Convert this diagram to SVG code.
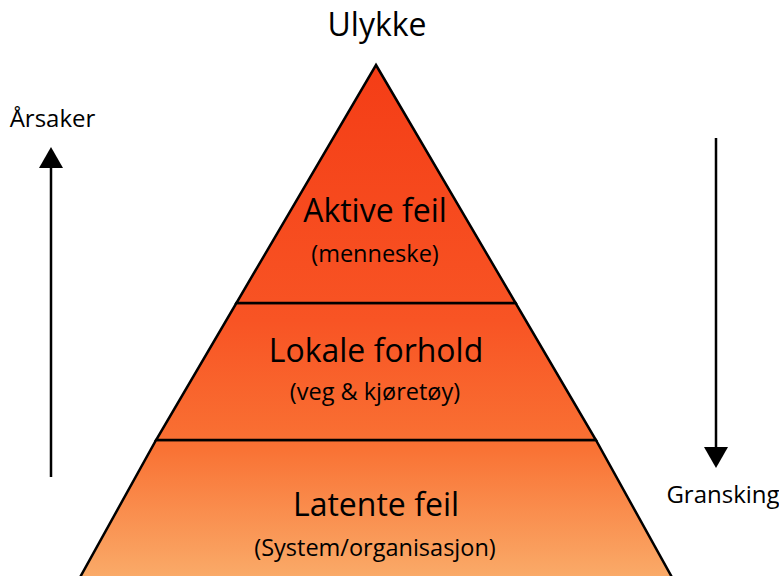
<svg xmlns="http://www.w3.org/2000/svg" width="779" height="576" viewBox="0 0 779 576">
<defs>
<linearGradient id="g" gradientUnits="userSpaceOnUse" x1="0" y1="65" x2="0" y2="576">
<stop offset="0" stop-color="#F43D16"/>
<stop offset="0.5" stop-color="#F85424"/>
<stop offset="0.75" stop-color="#F97234"/>
<stop offset="1" stop-color="#FAAA68"/>
</linearGradient>
</defs>
<style>
.band{fill:url(#g);stroke:#000;stroke-width:2.5;stroke-linejoin:miter}
.t{font-family:"Open Sans","Noto Sans",sans-serif;fill:#000;text-anchor:middle}
.big{font-size:32px}
.small{font-size:23.5px}
.lab{font-size:24px}
.arr{stroke:#000;stroke-width:2.5;fill:none}
</style>
<g id="bottom-band">
<polygon class="band" points="156.1,440 595.9,440 679,590 73,590"/>
<text class="t big" x="376" y="516">Latente feil</text>
<text class="t small" x="375" y="556">(System/organisasjon)</text>
</g>
<g id="middle-band">
<polygon class="band" points="236.4,303 515.6,303 595.9,440 156.1,440"/>
<text class="t big" x="376" y="362">Lokale forhold</text>
<text class="t small" x="375" y="400">(veg &amp; kjøretøy)</text>
</g>
<g id="top-band">
<polygon class="band" points="376,65 515.6,303 236.4,303"/>
<text class="t big" x="375" y="222">Aktive feil</text>
<text class="t small" x="375" y="262">(menneske)</text>
</g>
<g id="ulykke">
<text class="t big" x="377" y="36">Ulykke</text>
</g>
<g id="arsaker">
<text class="t lab" x="52.5" y="127">Årsaker</text>
</g>
<g id="gransking">
<text class="t lab" x="723" y="503">Gransking</text>
</g>
<g id="connectors">
<line class="arr" x1="51" y1="477" x2="51" y2="165"/>
<polygon points="51,147 39,168 63,168" fill="#000"/>
<line class="arr" x1="716" y1="138" x2="716" y2="450"/>
<polygon points="716,468 704,447 728,447" fill="#000"/>
</g>
</svg>
